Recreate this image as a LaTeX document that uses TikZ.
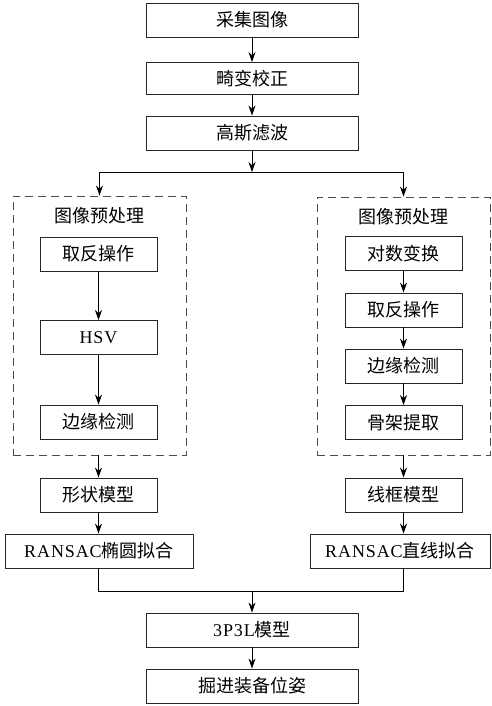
\documentclass[tikz,border=0pt]{standalone}
\usepackage{fontspec}
\setmainfont[LetterSpace=5]{Liberation Serif}
\newfontfamily\cjk{Noto Sans CJK SC}
\usetikzlibrary{arrows.meta}
\begin{document}
\begin{tikzpicture}[x=1pt,y=-1pt,
  box/.style={draw=black!85,line width=0.9pt,minimum height=34pt,inner sep=0pt,font=\fontsize{18}{18}\selectfont},
  wide/.style={box,minimum width=212pt},
  mid/.style={box,minimum width=117pt},
  dashbox/.style={draw=black!70,dash pattern=on 8pt off 5pt,line width=0.9pt,inner sep=0pt},
  title/.style={font=\fontsize{18}{18}\selectfont},
  arr/.style={-{Stealth[length=10pt,width=7pt]},line width=0.8pt},
  ln/.style={line width=0.8pt}]
\useasboundingbox (0,0) rectangle (492,706);
% top chain
\node[wide] (caiji) at (252,20) {\cjk 采集图像};
\node[wide,minimum height=32pt] (jibian) at (252,78.5) {\cjk 畸变校正};
\node[wide] (gaosi) at (252,133) {\cjk 高斯滤波};
\draw[arr] (caiji) -- (jibian);
\draw[arr] (jibian) -- (gaosi);
\coordinate (br) at (252,172);
\coordinate (brl) at (99.5,172);
\coordinate (brr) at (403.5,172);
% dashed groups
\node[dashbox,minimum width=173pt,minimum height=259pt] (lg) at (99.5,325.5) {};
\node[dashbox,minimum width=173pt,minimum height=258pt] (rg) at (403.5,326) {};
\node[title] (lt) at (99.5,216) {\cjk 图像预处理};
\node[title] (rt) at (403.5,217) {\cjk 图像预处理};
\draw[arr] (gaosi) -- (br);
\draw[ln] (brl) -- (brr);
\draw[arr] (brl) -- (brl |- lg.north);
\draw[arr] (brr) -- (brr |- rg.north);
% left inner
\node[mid] (l1) at (98.5,254) {\cjk 取反操作};
\node[mid] (l2) at (98.5,337.5) {HSV};
\node[mid] (l3) at (98.5,422) {\cjk 边缘检测};
\draw[arr] (l1) -- (l2);
\draw[arr] (l2) -- (l3);
% right inner
\node[mid] (r1) at (403.5,253.5) {\cjk 对数变换};
\node[mid] (r2) at (403.5,310) {\cjk 取反操作};
\node[mid] (r3) at (403.5,366) {\cjk 边缘检测};
\node[mid] (r4) at (403.5,422.5) {\cjk 骨架提取};
\draw[arr] (r1) -- (r2);
\draw[arr] (r2) -- (r3);
\draw[arr] (r3) -- (r4);
% models
\node[mid] (lm) at (98.5,495) {\cjk 形状模型};
\node[mid] (rm) at (403.5,495) {\cjk 线框模型};
\draw[arr] (lg.south -| lm) -- (lm);
\draw[arr] (rg.south -| rm) -- (rm);
\node[box,minimum width=188pt] (lr) at (99,551) {RANSAC{\cjk 椭圆拟合}};
\node[box,minimum width=180pt] (rr) at (400,551) {RANSAC{\cjk 直线拟合}};
\draw[arr] (lm) -- (lm |- lr.north);
\draw[arr] (rm) -- (rm |- rr.north);
% merge
\coordinate (ml) at (98.5,591);
\coordinate (mr) at (403.5,591);
\coordinate (mc) at (252,591);
\draw[ln] (ml |- lr.south) -- (ml) -- (mr) -- (mr |- rr.south);
\node[wide] (p3) at (252,630) {3P3L{\cjk 模型}};
\node[wide] (pose) at (252,686) {\cjk 掘进装备位姿};
\draw[arr] (mc) -- (p3);
\draw[arr] (p3) -- (pose);
\end{tikzpicture}
\end{document}
